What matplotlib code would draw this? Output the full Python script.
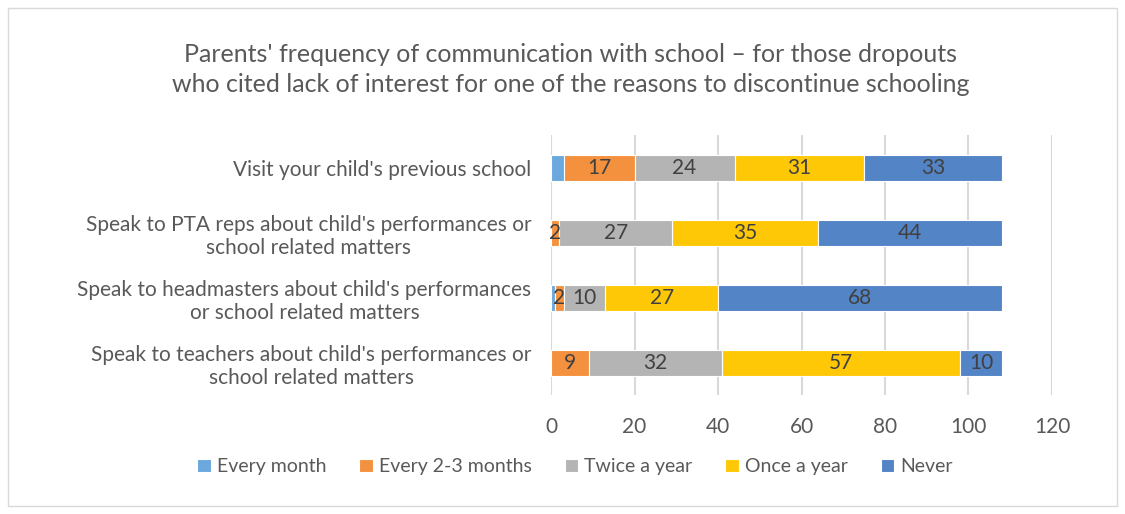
import matplotlib.pyplot as plt
import numpy as np
from matplotlib.patches import Rectangle

plt.rcParams['font.family'] = ['Lato', 'DejaVu Sans']

# categories, top to bottom
categories = [
    "Visit your child's previous school",
    "Speak to PTA reps about child's performances or\nschool related matters",
    "Speak to headmasters about child's performances\nor school related matters",
    "Speak to teachers about child's performances or\nschool related matters",
]
series = ["Every month", "Every 2-3 months", "Twice a year", "Once a year", "Never"]
every_month = [3, 0, 1, 0]
every_2_3_months = [17, 2, 2, 9]
twice_a_year = [24, 27, 10, 32]
once_a_year = [31, 35, 27, 57]
never = [33, 44, 68, 10]
colors = ['#6AA8DE', '#F4913F', '#B4B4B4', '#FFC806', '#5384C6']
x_ticks = [0, 20, 40, 60, 80, 100, 120]

values = [every_month, every_2_3_months, twice_a_year, once_a_year, never]
text_col = '#595959'

fig = plt.figure(figsize=(11.25, 5.14), dpi=100)
fig.patches.append(Rectangle((8 / 1125, 8 / 514), 1109 / 1125, 498 / 514,
                             transform=fig.transFigure, fill=False,
                             edgecolor='#D9D9D9', linewidth=1))
ax = fig.add_axes([0.4898, 0.2315, 0.4453, 0.5055])

y = np.arange(len(categories))
left = np.zeros(len(categories))
for i, (name, vals) in enumerate(zip(series, values)):
    vals = np.array(vals, dtype=float)
    ax.barh(y, vals, left=left, height=0.4, color=colors[i], label=name,
            edgecolor='white', linewidth=0.8, zorder=3)
    if i > 0:
        for yy, l, v in zip(y, left, vals):
            if v > 0:
                ax.text(l + v / 2, yy, '%d' % v, ha='center', va='center',
                        fontsize=15, color='#404040', zorder=4)
    left += vals

ax.set_xlim(0, 120)
ax.set_ylim(3.5, -0.5)
ax.set_xticks(x_ticks)
ax.set_yticks(y)
ax.set_yticklabels(categories)
for lab in ax.get_yticklabels():
    lab.set_multialignment('center')
ax.tick_params(axis='both', length=0, labelsize=15, colors=text_col)
ax.tick_params(axis='y', pad=14)
ax.tick_params(axis='x', pad=16)
ax.grid(axis='x', color='#D9D9D9', linewidth=1.5, zorder=0)
for s in ax.spines.values():
    s.set_visible(False)

fig.text(0.507, 0.865, "Parents' frequency of communication with school \u2013 for those dropouts\nwho cited lack of interest for one of the reasons to discontinue schooling",
         ha='center', va='center', fontsize=18, color=text_col, linespacing=1.4)

fig.legend(loc='center', bbox_to_anchor=(0.511, 0.092), ncol=5, frameon=False,
           fontsize=14, labelcolor=text_col, handlelength=0.7, handleheight=0.7,
           handletextpad=0.3, columnspacing=1.7)

fig.savefig('out.png', dpi=100)
